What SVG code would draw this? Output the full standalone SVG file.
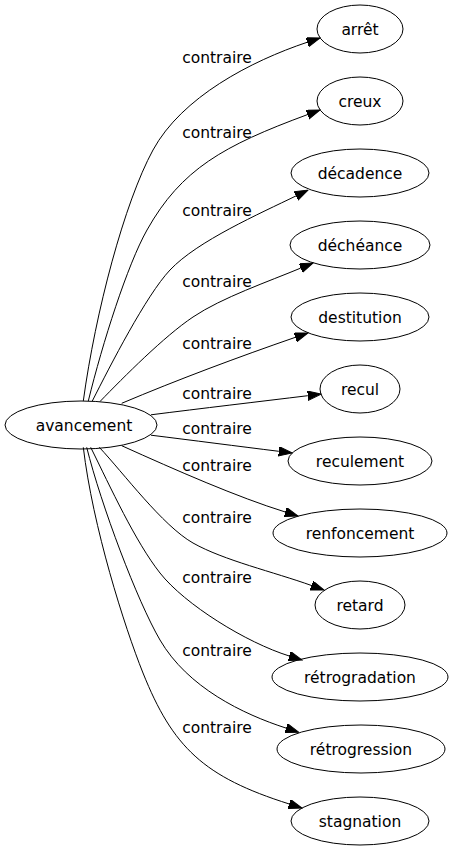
<svg xmlns="http://www.w3.org/2000/svg" width="454" height="851" viewBox="0 0 454 851">
<style>
.node ellipse{fill:none;stroke:#000;stroke-width:1}
.node text{font-family:"DejaVu Sans",sans-serif;font-size:15.5px;fill:#000;text-anchor:middle}
.edge path{fill:none;stroke:#000;stroke-width:1;marker-end:url(#arr)}
.lbl{font-family:"DejaVu Sans",sans-serif;font-size:15.5px;fill:#000;text-anchor:middle}
</style>
<defs>
<marker id="arr" markerUnits="userSpaceOnUse" markerWidth="14" markerHeight="10" refX="0" refY="4.67" orient="auto" viewBox="0 0 14 10">
<path d="M0,0 L13.3,4.67 L0,9.33 z" fill="#000" stroke="#000" stroke-width="1"/>
</marker>
</defs>
<rect width="454" height="851" fill="#fff"/>
<g id="connectors" class="edge">
<path d="M83.3,401 C95.5,311.9 124.3,202.7 153,150 C181.7,97.3 250.5,61.2 307.4,42.2"/>
<path d="M88.3,401 C102.6,342.7 127.4,264.8 147,230 C181.4,169 223.1,145.8 307.5,114.6"/>
<path d="M92.3,401 C110.4,365.4 146,295.5 170,270 C197.4,240.9 260.1,213.5 296,195.9"/>
<path d="M100,401.5 C124.4,376.4 164,336.5 193,317 C222,297.5 268.4,281.6 300.7,268.1"/>
<path d="M121.7,403.3 C177,379.9 238.7,356.9 295.4,337.3"/>
<path d="M151,414.8 C200,408.6 260,401.5 307.8,395.7"/>
<path d="M151,435.2 C190,440 240,446.5 278.8,451.3"/>
<path d="M121.7,445.7 C176.4,470.4 237.5,497.2 285.3,512"/>
<path d="M99.3,447.3 C123.3,472.8 162.5,525.7 193,543 C223.5,560.3 273.9,572 311.5,585.5"/>
<path d="M90.7,447.3 C110.6,487.6 135.3,541.6 160,573 C184.7,604.4 246.3,642.7 289.3,656"/>
<path d="M86.7,447.3 C101.2,505.5 137.3,601.2 160,640 C187.7,687.5 242.8,714.1 286.1,728.1"/>
<path d="M83.3,447.3 C92.7,526.7 124.4,626.6 143,673 C172.8,747.2 203.4,776.9 289.3,804"/>
<text class="lbl" x="217" y="63">contraire</text>
<text class="lbl" x="217" y="138">contraire</text>
<text class="lbl" x="217" y="216">contraire</text>
<text class="lbl" x="217" y="287">contraire</text>
<text class="lbl" x="217" y="349">contraire</text>
<text class="lbl" x="217" y="399">contraire</text>
<text class="lbl" x="217" y="434">contraire</text>
<text class="lbl" x="217" y="471">contraire</text>
<text class="lbl" x="217" y="523">contraire</text>
<text class="lbl" x="217" y="583">contraire</text>
<text class="lbl" x="217" y="656">contraire</text>
<text class="lbl" x="217" y="733">contraire</text>
</g>
<g id="avancement" class="node"><ellipse cx="81" cy="425" rx="76" ry="24"/><text x="84" y="431">avancement</text></g>
<g id="arret" class="node"><ellipse cx="360" cy="29" rx="43" ry="24"/><text x="360" y="35">arrêt</text></g>
<g id="creux" class="node"><ellipse cx="360" cy="101" rx="43" ry="24"/><text x="360" y="107">creux</text></g>
<g id="decadence" class="node"><ellipse cx="360" cy="173" rx="69" ry="24"/><text x="360" y="179">décadence</text></g>
<g id="decheance" class="node"><ellipse cx="360" cy="245" rx="70" ry="24"/><text x="360" y="251">déchéance</text></g>
<g id="destitution" class="node"><ellipse cx="360" cy="317" rx="69" ry="24"/><text x="360" y="323">destitution</text></g>
<g id="recul" class="node"><ellipse cx="360" cy="389" rx="40" ry="24"/><text x="360" y="395">recul</text></g>
<g id="reculement" class="node"><ellipse cx="360" cy="461" rx="72" ry="24"/><text x="360" y="467">reculement</text></g>
<g id="renfoncement" class="node"><ellipse cx="360" cy="533" rx="87" ry="24"/><text x="360" y="539">renfoncement</text></g>
<g id="retard" class="node"><ellipse cx="360" cy="605" rx="45" ry="24"/><text x="360" y="611">retard</text></g>
<g id="retrogradation" class="node"><ellipse cx="360" cy="677" rx="88" ry="24"/><text x="360" y="683">rétrogradation</text></g>
<g id="retrogression" class="node"><ellipse cx="361" cy="749" rx="84" ry="24"/><text x="361" y="755">rétrogression</text></g>
<g id="stagnation" class="node"><ellipse cx="360" cy="821" rx="69" ry="24"/><text x="360" y="827">stagnation</text></g>
</svg>
